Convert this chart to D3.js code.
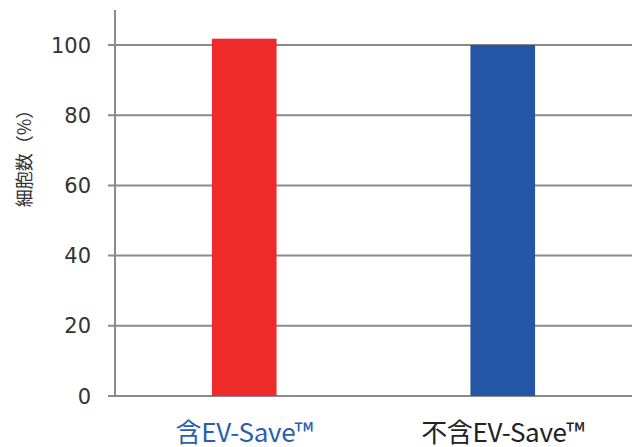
<!DOCTYPE html>
<html><head><meta charset="utf-8">
<script src="https://cdn.jsdelivr.net/npm/d3@7"></script>
<style>body{margin:0;background:#fff}svg{display:block}</style>
</head><body>
<script>
const categories = ["含EV-Save™", "不含EV-Save™"];
const values = [101.8, 100];
const barColors = ["#ee2a2a", "#2456a5"];
const labelColors = ["#2a5fad", "#222222"];
const yTicks = [0, 20, 40, 60, 80, 100];
const yLabel = "細胞数（%）";

(function () {
const W = 632, H = 447;
const svg = d3.select("body").append("svg").attr("width", W).attr("height", H);
const mLeft = 115, mRight = 632, mTop = 10, mBottom = 396;

const y = d3.scaleLinear().domain([0, 100]).range([mBottom, 45]);
const x = d3.scaleBand().domain(categories).range([mLeft, mRight]).paddingInner(0.75).paddingOuter(0.375);

svg.append("g").selectAll("line").data(yTicks).join("line")
  .attr("x1", mLeft - 7).attr("x2", mRight)
  .attr("y1", d => y(d)).attr("y2", d => y(d))
  .attr("stroke", "#8a8a8a").attr("stroke-width", 2);

svg.append("line").attr("x1", mLeft).attr("x2", mLeft).attr("y1", mTop).attr("y2", mBottom + 1)
  .attr("stroke", "#8a8a8a").attr("stroke-width", 2);

svg.append("g").selectAll("rect").data(values).join("rect")
  .attr("x", (d, i) => x(categories[i]))
  .attr("width", x.bandwidth())
  .attr("y", d => y(d))
  .attr("height", d => mBottom - y(d))
  .attr("fill", (d, i) => barColors[i]);

svg.append("g").selectAll("text").data(yTicks).join("text")
  .attr("x", 91).attr("y", d => y(d))
  .attr("dy", "0.36em").attr("text-anchor", "end")
  .attr("font-family", "DejaVu Sans, sans-serif").attr("font-size", 21)
  .attr("fill", "#333").text(d => d);

svg.append("g").selectAll("text").data(categories).join("text")
  .attr("x", d => x(d) + x.bandwidth() / 2).attr("y", 442)
  .attr("text-anchor", "middle")
  .attr("font-family", "'Noto Sans CJK JP', sans-serif").attr("font-size", 26)
  .attr("letter-spacing", "-0.3px")
  .attr("fill", (d, i) => labelColors[i]).text(d => d);

svg.append("text").attr("transform", "translate(25,154) rotate(-90)")
  .attr("text-anchor", "middle").attr("dy", "0.35em")
  .attr("font-family", "'Noto Sans CJK JP', sans-serif").attr("font-size", 18)
  .attr("fill", "#333").text(yLabel);
})();
</script>
</body></html>
